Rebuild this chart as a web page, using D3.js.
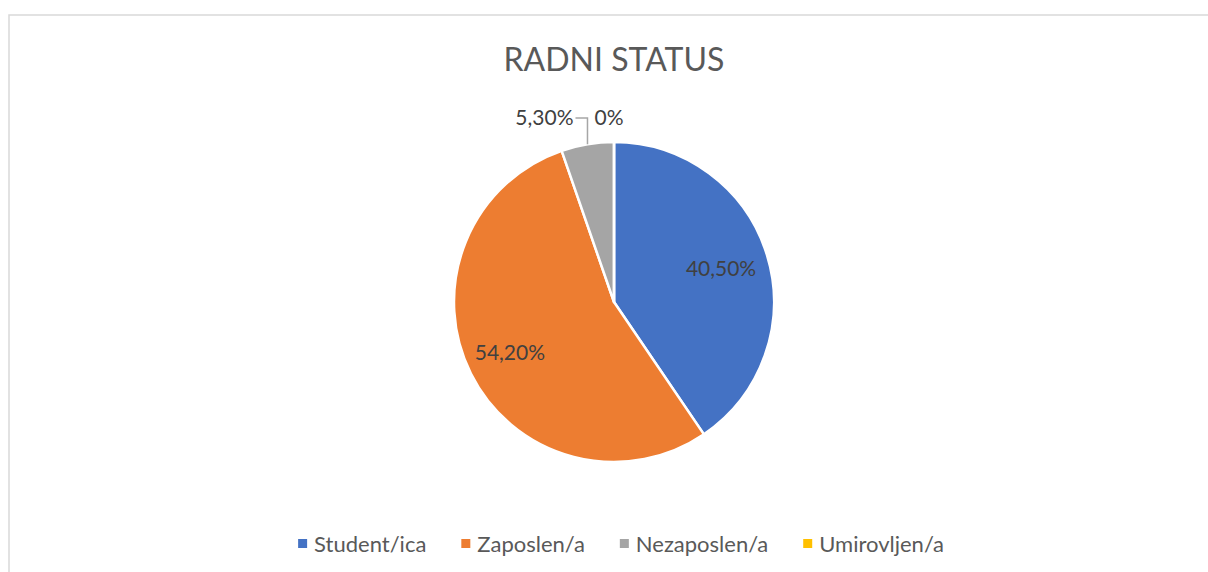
<!DOCTYPE html>
<html>
<head>
<meta charset="utf-8">
<script src="https://cdn.jsdelivr.net/npm/d3@7"></script>
<style>
  html, body { margin: 0; padding: 0; background: #fff; }
  svg { display: block; }
  text { font-family: Lato, "Open Sans", sans-serif; }
</style>
</head>
<body>
<div id="chart"></div>
<script>
// Chart data
const categories = ["Student/ica", "Zaposlen/a", "Nezaposlen/a", "Umirovljen/a"];
const values = [40.5, 54.2, 5.3, 0];
const valueLabels = ["40,50%", "54,20%", "5,30%", "0%"];
const colors = ["#4472C4", "#ED7D31", "#A5A5A5", "#FFC000"];
const title = "RADNI STATUS";

const width = 1208, height = 572;
const cx = 614, cy = 302, radius = 160;

const svg = d3.select("#chart")
  .append("svg")
  .attr("width", width)
  .attr("height", height);

// chart area border (runs off the right and bottom of the window)
svg.append("rect")
  .attr("x", 9)
  .attr("y", 15)
  .attr("width", width + 10)
  .attr("height", height + 10)
  .attr("fill", "#fff")
  .attr("stroke", "#d9d9d9")
  .attr("stroke-width", 1.5);

// Title
svg.append("text")
  .attr("x", cx)
  .attr("y", 71)
  .attr("text-anchor", "middle")
  .attr("font-size", 32)
  .attr("fill", "#595959")
  .text(title);

const pie = d3.pie().sort(null).value(d => d)(values);
const arc = d3.arc().innerRadius(0).outerRadius(radius);
const labelArc = d3.arc().innerRadius(radius * 0.7).outerRadius(radius * 0.7);

const g = svg.append("g").attr("transform", `translate(${cx},${cy})`);

g.selectAll("path.slice")
  .data(pie)
  .join("path")
  .attr("class", "slice")
  .attr("d", arc)
  .attr("fill", (d, i) => colors[i])
  .attr("stroke", "#fff")
  .attr("stroke-width", 2.5)
  .attr("stroke-linejoin", "round");

const labelSize = 21;

// Data labels
pie.forEach((d, i) => {
  const share = d.endAngle - d.startAngle;
  if (share > 0.5) {
    const [x, y] = labelArc.centroid(d);
    g.append("text")
      .attr("x", x - (x < 0 ? 4 : 0))
      .attr("y", y)
      .attr("dy", "0.35em")
      .attr("text-anchor", "middle")
      .attr("font-size", labelSize)
      .attr("fill", "#404040")
      .text(valueLabels[i]);
  } else if (d.value > 0) {
    // small slice: label outside with a leader line
    const mid = (d.startAngle + d.endAngle) / 2;
    const ex = Math.sin(mid) * radius, ey = -Math.cos(mid) * radius;
    const ly = -radius - 24;
    g.append("path")
      .attr("d", `M${ex},${ey}V${ly}H${ex - 12}`)
      .attr("fill", "none")
      .attr("stroke", "#a6a6a6")
      .attr("stroke-width", 1.5);
    g.append("text")
      .attr("x", ex - 14)
      .attr("y", ly)
      .attr("dy", "0.35em")
      .attr("text-anchor", "end")
      .attr("font-size", labelSize)
      .attr("fill", "#404040")
      .text(valueLabels[i]);
  } else {
    // zero slice at the top
    const mid = d.startAngle;
    g.append("text")
      .attr("x", Math.sin(mid) * radius - 5)
      .attr("y", -radius - 24)
      .attr("dy", "0.35em")
      .attr("text-anchor", "middle")
      .attr("font-size", labelSize)
      .attr("fill", "#404040")
      .text(valueLabels[i]);
  }
});

// Legend
const legend = svg.append("g");
const items = legend.selectAll("g.item")
  .data(categories)
  .join("g")
  .attr("class", "item");

items.append("rect")
  .attr("width", 9)
  .attr("height", 9)
  .attr("y", -5)
  .attr("fill", (d, i) => colors[i]);

items.append("text")
  .attr("x", 16)
  .attr("dy", "0.35em")
  .attr("font-size", 22)
  .attr("fill", "#595959")
  .text(d => d);

const gap = 35;
let offset = 0;
items.each(function () {
  const w = this.getBBox().width;
  d3.select(this).attr("transform", `translate(${offset},0)`);
  offset += w + gap;
});
const total = offset - gap;
legend.attr("transform", `translate(${cx + 7 - total / 2},544)`);
</script>
</body>
</html>
